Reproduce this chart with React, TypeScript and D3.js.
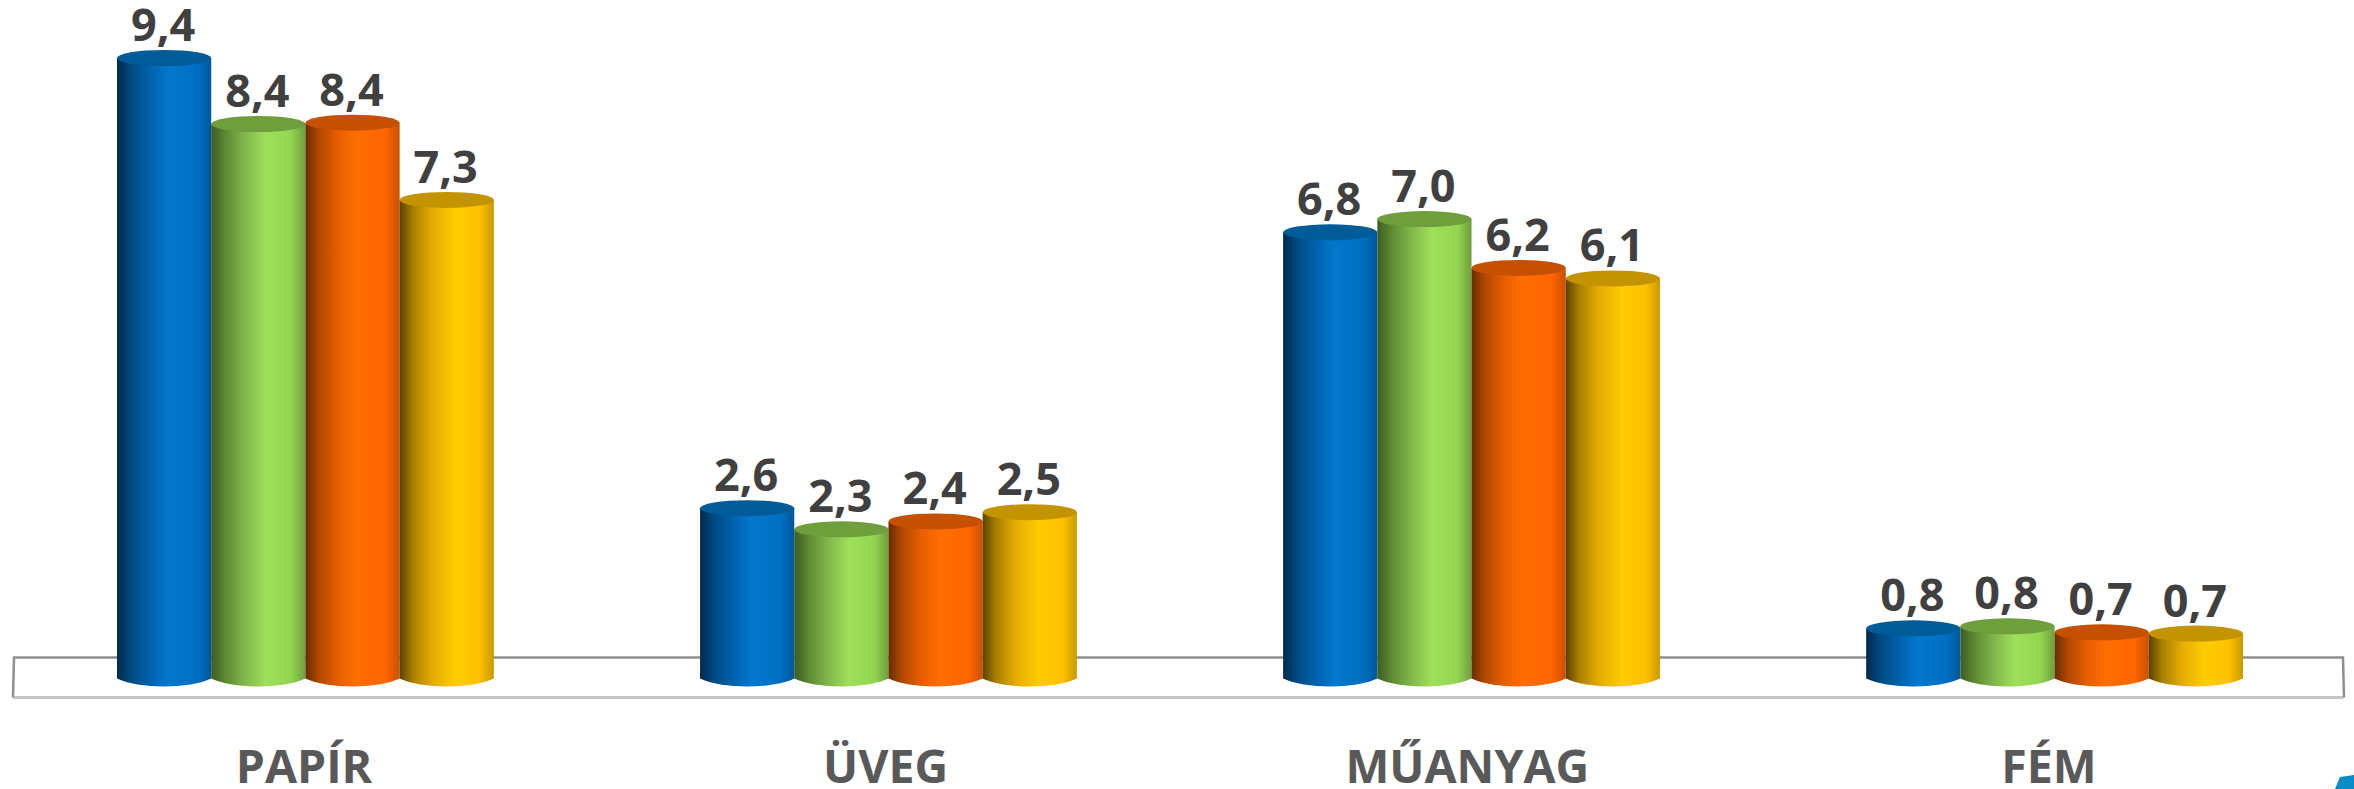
import React from "react";
import * as d3 from "d3";

const categories = ["PAPÍR", "ÜVEG", "MŰANYAG", "FÉM"];
const seriesKeys = ["blue", "green", "orange", "yellow"];
const blueValues = [9.4, 2.58, 6.76, 0.76];
const greenValues = [8.4, 2.26, 6.96, 0.79];
const orangeValues = [8.42, 2.38, 6.22, 0.7];
const yellowValues = [7.25, 2.52, 6.06, 0.68];
const allValues = [blueValues, greenValues, orangeValues, yellowValues];

const W = 2354;
const H = 789;
const RY = 8;

const topColors = ["#005c98", "#6f9e3c", "#c55000", "#c49400"];
const sideStops: [number, string][][] = [
  [[0, "#00294a"], [0.14, "#004a80"], [0.35, "#0062ad"], [0.55, "#0378ce"], [0.85, "#006fc2"], [1, "#00589a"]],
  [[0, "#3d5c22"], [0.14, "#5b8732"], [0.35, "#80b54a"], [0.58, "#9fe05a"], [0.85, "#93d451"], [1, "#6f9e3d"]],
  [[0, "#692c00"], [0.14, "#b04800"], [0.35, "#e85f00"], [0.55, "#ff6e00"], [0.85, "#ff6600"], [1, "#c95000"]],
  [[0, "#5a4300"], [0.14, "#a87e00"], [0.35, "#e5ac00"], [0.6, "#ffcc00"], [0.85, "#ffc000"], [1, "#c89a00"]],
];

const y = d3.scaleLinear().domain([0, 9.4]).range([678.5, 58]);
const groupX = d3.scaleBand<string>().domain(categories).range([117, 2243]).paddingInner(0.3537).paddingOuter(0);
const barX = d3.scaleBand<string>().domain(seriesKeys).range([0, groupX.bandwidth()]);
const labelX = d3.scalePoint<string>().domain(categories).range([304, 2049]);
const fmt = (v: number) => v.toFixed(1).replace(".", ",");

function cylinder(x: number, top: number, w: number) {
  const p = d3.path();
  const rx = w / 2;
  const base = y(0);
  p.moveTo(x, top);
  p.lineTo(x, base);
  p.bezierCurveTo(x + rx * 0.45, base + RY * 1.33, x + w - rx * 0.45, base + RY * 1.33, x + w, base);
  p.lineTo(x + w, top);
  p.closePath();
  return p.toString();
}

export default function App() {
  const w = barX.bandwidth();
  const font = "'Open Sans', sans-serif";
  return (
    <svg width={W} height={H} viewBox={`0 0 ${W} ${H}`} style={{ position: "absolute", left: 0, top: 0, display: "block" }}>
      <defs>
        {sideStops.map((stops, i) => (
          <linearGradient key={i} id={`side${i}`} x1="0" x2="1" y1="0" y2="0">
            {stops.map(([o, c]) => (
              <stop key={o} offset={o} stopColor={c} />
            ))}
          </linearGradient>
        ))}
      </defs>
      <rect width={W} height={H} fill="#fff" />
      <path d="M2343.5 697.5 L13 697.5" stroke="#c6c6c6" strokeWidth={3} fill="none" />
      <path d="M13 697.5 L14 657.5 L2343 657.5 L2344 697.5" stroke="#8e8e8e" strokeWidth={2.5} fill="none" />
      {categories.map((cat, ci) => (
        <g key={cat}>
          {seriesKeys.map((s, si) => {
            const x = (groupX(cat) as number) + (barX(s) as number);
            const v = allValues[si][ci];
            const top = y(v);
            return (
              <g key={s}>
                <path d={cylinder(x, top, w)} fill={`url(#side${si})`} />
                <ellipse cx={x + w / 2} cy={top} rx={w / 2} ry={RY} fill={topColors[si]} />
                <text x={x + w / 2 - 1} y={top - 17} textAnchor="middle" fontFamily={font} fontWeight={700} fontSize={45} fill="#404040">
                  {fmt(v)}
                </text>
              </g>
            );
          })}
          <text x={labelX(cat)} y={783} textAnchor="middle" fontFamily={font} fontWeight={700} fontSize={46.5} fill="#595959">
            {cat}
          </text>
        </g>
      ))}
      <path d="M2335 789 L2340 777 L2354 775 L2354 789 Z" fill="#0a8cc6" />
    </svg>
  );
}
